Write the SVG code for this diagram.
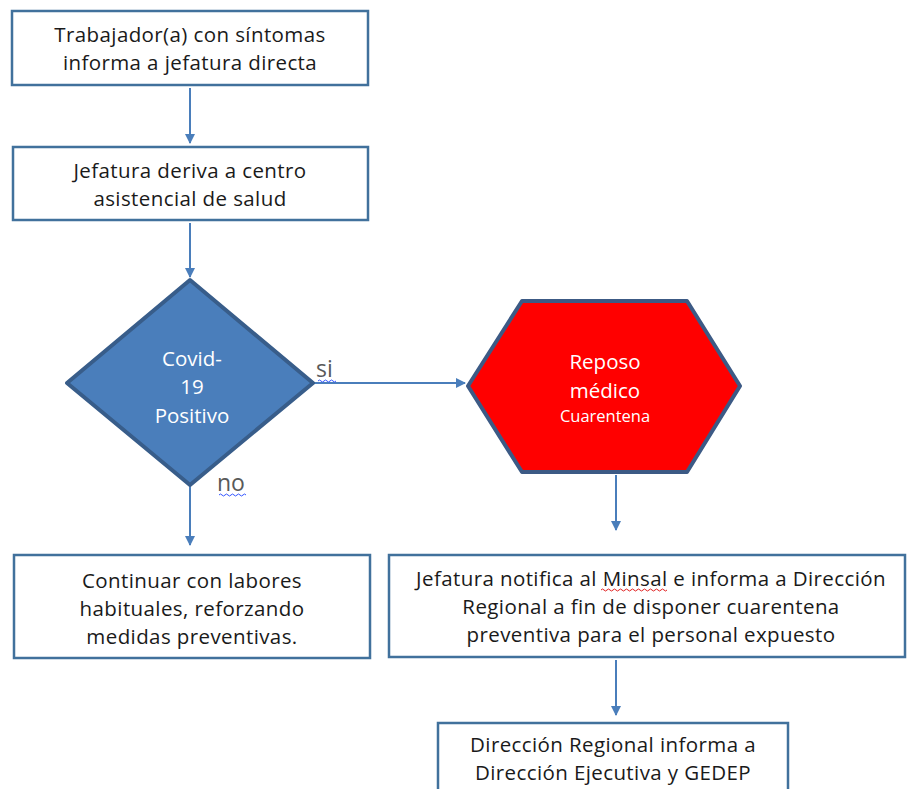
<svg xmlns="http://www.w3.org/2000/svg" width="909" height="789" viewBox="0 0 909 789">
<defs>
<marker id="ah" markerWidth="10" markerHeight="10" refX="9" refY="5" orient="auto" markerUnits="userSpaceOnUse" viewBox="0 0 10 10">
<path d="M0,0 L10,5 L0,10 z" fill="#4a7ebb"/>
</marker>
<style>
.box{fill:#fff;stroke:#41719c;stroke-width:2.5}
.t{font-family:"Open Sans","Liberation Sans",Arial,sans-serif;font-size:20.5px;letter-spacing:0.4px;fill:#1a1a1a;text-anchor:middle}
.w{font-family:"Open Sans","Liberation Sans",Arial,sans-serif;font-size:20.5px;fill:#fff;text-anchor:middle}
.lbl{font-family:"Open Sans","Liberation Sans",Arial,sans-serif;font-size:23px;fill:#595959}
.c{stroke:#4a7ebb;stroke-width:2;fill:none;marker-end:url(#ah)}
</style>
</defs>
<rect width="909" height="789" fill="#fff"/>
<g id="connectors">
<line class="c" x1="190" y1="88" x2="190" y2="143"/>
<line class="c" x1="190" y1="223" x2="190" y2="277"/>
<line class="c" x1="314" y1="383" x2="465" y2="383"/>
<line class="c" x1="190" y1="487" x2="190" y2="545"/>
<line class="c" x1="616" y1="475" x2="616" y2="530"/>
<line class="c" x1="616" y1="660" x2="616" y2="715"/>
<text class="lbl" x="316" y="377">si</text>
<path d="M318,381 q1.5,-2 3,0 t3,0 t3,0 t3,0 t3,0 t3,0" stroke="#3355ff" stroke-width="1" fill="none"/>
<text class="lbl" x="217" y="491">no</text>
<path d="M219,495 q1.5,-2 3,0 t3,0 t3,0 t3,0 t3,0 t3,0 t3,0 t3,0 t3,0" stroke="#3355ff" stroke-width="1" fill="none"/>
</g>
<g id="n1">
<rect class="box" x="12" y="11" width="356" height="74"/>
<text class="t" x="190" y="42">Trabajador(a) con síntomas</text>
<text class="t" x="190" y="70">informa a jefatura directa</text>
</g>
<g id="n2">
<rect class="box" x="13" y="147" width="355" height="73"/>
<text class="t" x="190" y="178">Jefatura deriva a centro</text>
<text class="t" x="190" y="206">asistencial de salud</text>
</g>
<g id="n3">
<polygon points="190,280 313,383 190,485 67,383" fill="#4a7ebb" stroke="#385d8a" stroke-width="4" stroke-linejoin="round"/>
<text class="w" x="192" y="366">Covid-</text>
<text class="w" x="192" y="394">19</text>
<text class="w" x="192" y="423">Positivo</text>
</g>
<g id="n4">
<polygon points="468,386 522,301 687,301 740,386 687,472 522,472" fill="#ff0000" stroke="#3c5a85" stroke-width="4" stroke-linejoin="round"/>
<text class="w" x="605" y="369">Reposo</text>
<text class="w" x="605" y="398">médico</text>
<text class="w" x="605" y="422" style="font-size:16.5px">Cuarentena</text>
</g>
<g id="n5">
<rect class="box" x="14" y="555" width="356" height="103"/>
<text class="t" x="192" y="588">Continuar con labores</text>
<text class="t" x="192" y="616">habituales, reforzando</text>
<text class="t" x="192" y="644">medidas preventivas.</text>
</g>
<g id="n6">
<rect class="box" x="389" y="555" width="516" height="102"/>
<text class="t" x="651" y="586">Jefatura notifica al Minsal e informa a Dirección</text>
<path d="M601,590 q1.5,-2 3,0 t3,0 t3,0 t3,0 t3,0 t3,0 t3,0 t3,0 t3,0 t3,0 t3,0 t3,0 t3,0 t3,0 t3,0 t3,0 t3,0 t3,0 t3,0 t3,0 t3,0 t3,0" stroke="#e02020" stroke-width="1" fill="none"/>
<text class="t" x="651" y="614">Regional a fin de disponer cuarentena</text>
<text class="t" x="651" y="642">preventiva para el personal expuesto</text>
</g>
<g id="n7">
<rect class="box" x="438" y="723" width="350" height="80"/>
<text class="t" x="613" y="752">Dirección Regional informa a</text>
<text class="t" x="613" y="780">Dirección Ejecutiva y GEDEP</text>
</g>
</svg>
